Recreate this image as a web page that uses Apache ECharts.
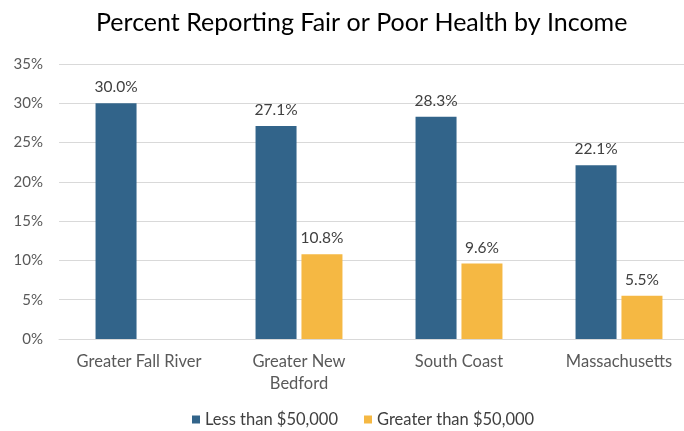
<!DOCTYPE html>
<html>
<head>
<meta charset="utf-8">
<script src="https://cdn.jsdelivr.net/npm/echarts@6/dist/echarts.min.js"></script>
<style>
  html, body { margin: 0; padding: 0; background: #fff; overflow: hidden; }
  /* the reference is cropped on the right, so the chart is a bit wider than the window */
  #chart { width: 699px; height: 431px; }
</style>
</head>
<body>
<div id="chart"></div>
<script>
  var categories = ['Greater Fall River', 'Greater New\nBedford', 'South Coast', 'Massachusetts'];
  var lessThan50k = [30.0, 27.1, 28.3, 22.1];
  var greaterThan50k = [null, 10.8, 9.6, 5.5];
  var seriesNames = ['Less than $50,000', 'Greater than $50,000'];
  var font = 'Lato';

  var chart = echarts.init(document.getElementById('chart'));

  function labelOpt() {
    return {
      show: true,
      position: 'top',
      distance: 8,
      color: '#404040',
      fontFamily: font,
      fontSize: 15.5,
      formatter: function (p) { return p.value.toFixed(1) + '%'; }
    };
  }

  chart.setOption({
    animation: false,
    title: {
      text: 'Percent Reporting Fair or Poor Health by Income',
      left: 91,
      top: 5,
      textStyle: { fontFamily: font, fontSize: 25, fontWeight: 'normal', color: '#000' }
    },
    legend: {
      left: 192,
      top: 411,
      padding: 0,
      itemWidth: 8,
      itemHeight: 8,
      itemGap: 26,
      icon: 'rect',
      textStyle: { fontFamily: font, fontSize: 16.5, color: '#404040' },
      data: seriesNames
    },
    grid: { left: 59, right: 0, top: 64, bottom: 92 },
    xAxis: {
      type: 'category',
      data: categories,
      axisLine: { lineStyle: { color: '#d9d9d9' } },
      axisTick: { show: false },
      axisLabel: { fontFamily: font, fontSize: 16.5, color: '#595959', margin: 12, lineHeight: 22, interval: 0 }
    },
    yAxis: {
      type: 'value',
      min: 0,
      max: 35,
      interval: 5,
      axisLine: { show: false },
      axisTick: { show: false },
      splitLine: { lineStyle: { color: '#d9d9d9' } },
      axisLabel: { fontFamily: font, fontSize: 15, color: '#595959', margin: 16, formatter: '{value}%' }
    },
    series: [
      {
        name: seriesNames[0],
        type: 'bar',
        data: lessThan50k,
        barWidth: 41,
        barGap: '12%',
        itemStyle: { color: '#32648A' },
        label: labelOpt()
      },
      {
        name: seriesNames[1],
        type: 'bar',
        data: greaterThan50k,
        barWidth: 41,
        itemStyle: { color: '#F5B843' },
        label: labelOpt()
      }
    ]
  });
</script>
</body>
</html>
